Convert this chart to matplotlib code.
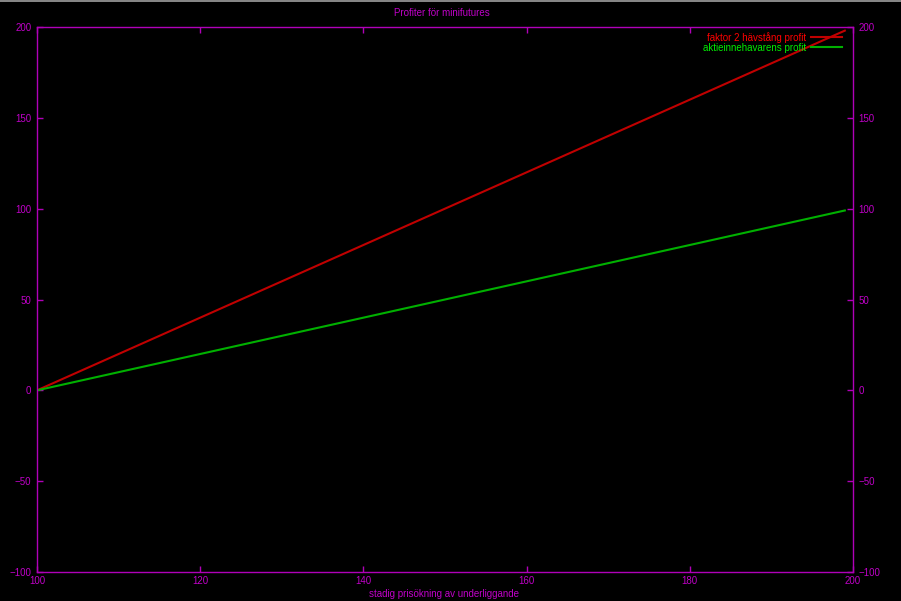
import numpy as np
import matplotlib
matplotlib.use('Agg')
import matplotlib.pyplot as plt
from matplotlib.lines import Line2D

# data
x_vals      = [100, 120, 140, 160, 180, 199]
red_vals    = [0, 40, 80, 120, 160, 198]
green_vals  = [0, 20, 40, 60, 80, 99]

x_ticks     = [100, 120, 140, 160, 180, 200]
y_ticks     = [-100, -50, 0, 50, 100, 150, 200]

title       = "Profiter för minifutures"
xlabel      = "stadig prisökning av underliggande"
red_label   = "faktor 2 hävstång profit"
green_label = "aktieinnehavarens profit"

axis_col    = '#b000b8'
text_col    = '#c000c8'
fs          = 7

plt.rcParams['font.family'] = ['Liberation Sans', 'DejaVu Sans']

fig = plt.figure(figsize=(9.01, 6.01), dpi=100, facecolor='black')
ax  = fig.add_axes([37/901, 29/601, 816/901, 545/601], facecolor='black')

ax.plot(x_vals, red_vals, color='#c00000', lw=1.5, label=red_label)
ax.plot(x_vals, green_vals, color='#00b000', lw=1.5, label=green_label)

ax.set_xlim(100, 200)
ax.set_ylim(-100, 200)
ax.set_xticks(x_ticks)
ax.set_yticks(y_ticks)

for s in ax.spines.values() :
    s.set_color(axis_col)
    s.set_linewidth(1.0)

ax.tick_params(direction='in', length=4.5, width=1, colors=axis_col,
               labelcolor=text_col, labelsize=fs,
               top=True, right=True, labelright=True, pad=4)
ax.tick_params(axis='x', pad=3)

fig.text(442/901, 1 - 13/601, title, color=text_col, fontsize=fs, ha='center', va='center')
fig.text(444/901, 1 - 594/601, xlabel, color=text_col, fontsize=fs, ha='center', va='center')

leg = ax.legend(loc='upper right', bbox_to_anchor=(1.0 - 3/816, 1.0 + 3/545), frameon=False,
                markerfirst=False, fontsize=fs, handlelength=3.2, handletextpad=0.5,
                labelspacing=0.0, borderpad=0.3,
                labelcolor=['#ff0000', '#00ee00'])

# thin gray line along the top edge
fig.add_artist(Line2D([0, 1], [1 - 0.5/601, 1 - 0.5/601], color='#a0a0a0', lw=1.2,
                      transform=fig.transFigure))

fig.savefig('out.png', dpi=100, facecolor='black')
